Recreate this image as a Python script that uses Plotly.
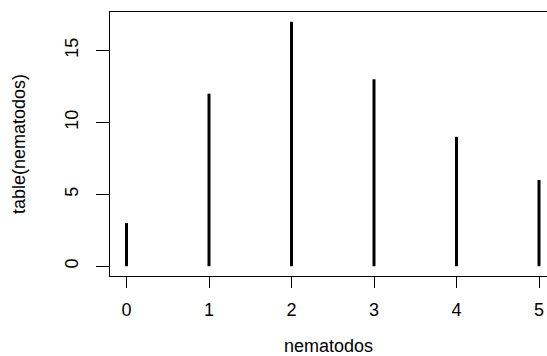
import plotly.graph_objects as go

categories = [0, 1, 2, 3, 4, 5]
counts = [3, 12, 17, 13, 9, 6]
y_ticks = [0, 5, 10, 15]

xs, ys = [], []
for c, v in zip(categories, counts):
    xs += [c, c, None]
    ys += [0, v, None]

fig = go.Figure()
fig.add_trace(go.Scatter(x=xs, y=ys, mode="lines",
                         line=dict(color="black", width=3), showlegend=False,
                         hoverinfo="skip", cliponaxis=False))

font = dict(family="Liberation Sans, Arial, sans-serif", size=18, color="black")

fig.update_layout(
    width=547, height=356,
    margin=dict(l=110, r=0, t=12, b=80),
    paper_bgcolor="white", plot_bgcolor="white",
    font=font,
    xaxis=dict(range=[-0.2, 5.097], tickmode="array", tickvals=categories,
               ticktext=[str(c) for c in categories], automargin=False,
               showgrid=False, zeroline=False, showline=True, mirror=True,
               linecolor="black", linewidth=1, ticks="outside", ticklen=11,
               tickcolor="black", tickwidth=1, ticklabelstandoff=6,
               title=dict(text="nematodos", standoff=21, font=font)),
    yaxis=dict(range=[-0.68, 17.68], tickmode="array", tickvals=y_ticks,
               ticktext=[str(t) for t in y_ticks], tickangle=-90, automargin=False,
               showgrid=False, zeroline=False, showline=True, mirror=False,
               linecolor="black", linewidth=1, ticks="outside", ticklen=13,
               tickcolor="black", tickwidth=1, ticklabelstandoff=11,
               title=dict(text="table(nematodos)", standoff=31, font=font)),
)

fig.write_html("out.html", config={"displayModeBar": False},
               post_script="document.body.style.margin='0';document.body.style.overflow='hidden';")
